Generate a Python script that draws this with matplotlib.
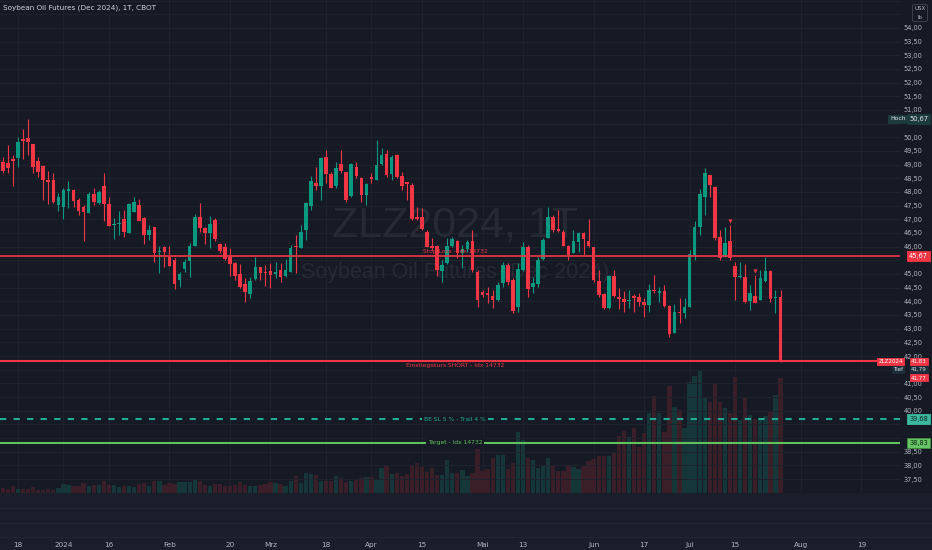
import numpy as np
import pandas as pd
import matplotlib
matplotlib.use("Agg")
import matplotlib.pyplot as plt
from matplotlib.transforms import blended_transform_factory
from matplotlib.patches import Rectangle
from matplotlib.lines import Line2D

# daily candles ZLZ2024, first bar 2023-12-13
opens = [
    49.11, 49.05, 49.21, 49.23, 49.93, 49.96, 49.74, 49.13, 48.94, 48.44,
    48.44, 47.53, 47.46, 48.07, 48.06, 47.71, 47.46, 47.24, 47.94, 47.61,
    48.20, 47.55, 46.82, 46.84, 47.01, 46.51, 47.26, 47.53, 47.04, 46.43,
    46.71, 45.79, 45.98, 45.63, 45.50, 44.78, 45.17, 45.48, 46.02, 47.07,
    46.67, 46.49, 46.98, 46.09, 45.98, 45.61, 45.39, 45.00, 44.63, 44.26,
    44.81, 45.24, 45.09, 45.11, 45.01, 45.15, 44.93, 45.09, 46.04, 45.96,
    46.61, 47.49, 48.32,
    48.23, 49.27, 48.65, 48.20, 49.01, 48.72, 47.87, 48.93, 48.50, 47.89,
    48.54, 48.44, 49.04, 49.38, 48.67, 49.35, 48.59, 48.35, 48.26, 47.10,
    47.07, 46.55, 46.04, 46.04, 45.10, 45.39, 46.04, 46.21, 45.76, 45.92,
    46.21, 45.09, 44.33, 44.32, 44.21, 44.05, 44.66, 45.33, 44.78, 43.80,
    45.15, 46.00, 44.54, 44.62, 45.54, 46.30, 47.07, 46.63, 46.55, 46.04,
    45.78, 46.18, 46.51, 46.22, 45.98, 44.74, 44.27, 43.74, 44.94, 44.17,
    44.09, 44.00, 44.19, 44.17, 43.99, 43.87, 44.38, 44.32, 44.38, 43.83,
    42.85, 43.62, 43.56, 43.80, 45.70, 46.73, 47.80, 48.62, 48.19, 46.37,
    45.61, 46.22, 45.30, 44.89, 44.88, 44.02, 44.21, 44.05, 44.74, 45.12,
    44.11, 44.16]
highs = [
    49.29, 49.72, 49.35, 50.02, 50.29, 50.67, 49.74, 49.29, 48.99, 48.77,
    48.68, 47.95, 48.13, 48.40, 48.11, 47.77, 47.52, 47.98, 48.16, 48.07,
    48.68, 47.83, 47.04, 47.31, 47.34, 47.59, 47.83, 47.73, 47.10, 46.79,
    46.73, 46.04, 46.04, 46.04, 45.57, 45.06, 45.54, 46.12, 47.20, 47.59,
    46.73, 47.12, 47.04, 46.12, 46.12, 45.94, 45.45, 45.37, 44.84, 44.90,
    45.63, 45.27, 45.33, 45.39, 45.45, 45.39, 45.54, 46.06, 46.43, 46.79,
    47.65, 48.59, 48.93,
    49.29, 49.54, 48.74, 49.11, 49.54, 48.74, 49.05, 49.11, 48.56, 48.32,
    48.68, 49.90, 49.60, 49.54, 49.35, 49.39, 48.74, 48.38, 48.32, 47.46,
    47.40, 46.61, 46.30, 46.06, 45.51, 46.30, 46.34, 46.24, 46.06, 46.24,
    46.61, 45.15, 44.41, 44.54, 44.41, 44.72, 45.45, 45.39, 44.84, 45.39,
    46.18, 46.06, 44.90, 45.63, 46.30, 47.44, 47.16, 47.34, 46.61, 46.06,
    46.61, 46.55, 46.55, 47.00, 46.00, 45.15, 44.29, 44.96, 45.15, 44.48,
    44.38, 44.41, 44.26, 44.32, 44.11, 44.62, 44.96, 44.54, 44.60, 43.87,
    43.90, 44.13, 44.11, 45.88, 46.95, 48.10, 48.87, 48.62, 48.22, 46.61,
    46.73, 46.79, 45.45, 45.45, 45.37, 44.60, 44.96, 45.15, 45.63, 45.15,
    44.41, 44.41]
lows = [
    48.68, 48.68, 48.20, 48.93, 49.20, 49.35, 48.71, 48.56, 47.71, 47.55,
    47.59, 47.31, 47.01, 47.43, 47.46, 47.16, 46.21, 47.22, 47.52, 47.56,
    46.95, 46.77, 46.27, 46.43, 46.37, 46.49, 47.26, 46.92, 46.09, 46.24,
    45.45, 45.02, 45.27, 45.31, 44.45, 44.54, 45.09, 44.90, 46.02, 46.55,
    46.10, 45.96, 46.22, 45.76, 45.51, 44.94, 44.78, 44.50, 43.99, 44.11,
    44.78, 44.78, 44.57, 44.48, 44.84, 44.72, 44.90, 45.07, 45.02, 45.96,
    46.24, 47.34, 48.07,
    47.71, 48.32, 48.13, 48.13, 48.68, 47.65, 47.83, 48.50, 47.65, 47.52,
    48.32, 48.44, 48.99, 48.56, 48.44, 48.50, 48.07, 47.71, 46.98, 46.98,
    46.61, 45.98, 45.88, 44.94, 44.72, 45.37, 45.98, 45.57, 45.21, 45.82,
    45.09, 43.80, 44.17, 43.93, 43.74, 44.03, 44.54, 44.60, 43.56, 43.62,
    45.12, 44.17, 44.32, 44.54, 45.51, 46.30, 46.55, 46.55, 46.03, 45.51,
    45.78, 45.82, 45.69, 46.00, 44.72, 44.17, 43.71, 43.72, 44.17, 43.72,
    43.62, 43.74, 43.62, 43.84, 43.44, 43.62, 44.29, 43.99, 43.80, 42.71,
    42.83, 43.19, 43.38, 43.80, 45.51, 46.43, 47.16, 47.83, 46.24, 45.51,
    45.61, 45.51, 44.05, 44.84, 43.95, 43.68, 43.93, 44.05, 44.72, 43.99,
    43.56, 41.79]
closes = [
    48.77, 48.89, 49.13, 49.82, 49.88, 49.83, 48.93, 48.74, 48.42, 48.38,
    47.65, 47.83, 48.07, 48.11, 47.68, 47.32, 47.27, 47.94, 47.65, 48.01,
    47.55, 46.77, 46.85, 46.88, 46.53, 47.55, 47.62, 46.95, 46.43, 46.61,
    45.78, 45.85, 45.79, 45.31, 44.63, 45.00, 45.43, 46.02, 47.09, 46.68,
    46.49, 46.84, 46.28, 45.85, 45.54, 45.37, 44.93, 44.54, 44.33, 44.74,
    45.27, 45.05, 45.05, 44.96, 45.07, 44.90, 45.15, 45.96, 45.99, 46.54,
    47.59, 48.40, 48.23,
    49.23, 48.65, 48.16, 48.89, 48.78, 47.71, 49.01, 48.58, 47.90, 48.28,
    48.48, 49.00, 49.35, 48.62, 49.29, 48.53, 48.23, 48.28, 47.00, 47.01,
    46.63, 46.00, 45.96, 45.15, 45.33, 46.04, 46.28, 45.76, 45.92, 46.18,
    45.15, 44.05, 44.23, 44.23, 44.05, 44.60, 45.33, 44.70, 43.65, 45.18,
    46.00, 44.45, 44.68, 45.51, 46.24, 47.07, 46.61, 46.58, 46.04, 45.67,
    46.21, 46.51, 46.28, 46.04, 44.78, 44.23, 43.74, 44.94, 44.21, 44.09,
    43.99, 44.05, 44.13, 43.96, 43.87, 44.41, 44.34, 44.38, 43.83, 42.80,
    43.62, 43.56, 43.78, 45.73, 46.71, 47.91, 48.68, 48.26, 46.30, 45.57,
    46.15, 45.57, 44.90, 44.94, 43.99, 44.32, 43.95, 44.84, 45.12, 44.09,
    44.16, 41.83]
volume = [
    15, 12, 20, 12, 12, 12, 17, 10, 10, 13, 8, 15, 27, 25, 20, 20, 30, 22, 23, 25,
    37, 25, 25, 18, 20, 20, 17, 28, 30, 20, 37, 35, 24, 30, 27, 32, 32, 32, 40, 37,
    25, 20, 26, 26, 22, 22, 25, 33, 25, 22, 20, 25, 28, 34, 30, 28, 22, 35, 52, 30,
    60, 58, 55, 37, 35, 35, 52, 45, 32, 37, 40, 45, 47, 47, 43, 75, 80, 58, 60, 52,
    58, 80, 90, 78, 62, 75, 55,
    55, 100, 60, 60, 70, 50, 60, 133, 65, 73, 105, 113, 113, 72, 90, 182, 160, 105,
    100, 75, 82, 105, 82, 65, 65, 80, 78, 73, 80, 97, 103, 110, 110, 112, 120, 172,
    185, 168, 197, 137, 180, 240, 292, 240, 182, 323, 260, 250, 195, 333, 352, 370,
    288, 273, 330, 273, 255, 240, 348, 220, 285, 235, 222, 220, 233, 247, 295, 345]

holidays = ["2023-12-25", "2024-01-01", "2024-01-15", "2024-02-19",
            "2024-03-29", "2024-05-27", "2024-06-19", "2024-07-04"]
days = pd.bdate_range("2023-12-13", "2024-09-30", freq="C", holidays=holidays)

tick_dates = ["2023-12-18", "2024-01-02", "2024-01-16", "2024-02-01", "2024-02-20",
              "2024-03-01", "2024-03-18", "2024-04-01", "2024-04-15", "2024-05-01",
              "2024-05-13", "2024-06-03", "2024-06-17", "2024-07-01", "2024-07-15",
              "2024-08-01", "2024-08-19"]
tick_labels = ["18", "2024", "16", "Feb", "20", "Mrz", "18", "Apr", "15", "Mai",
               "13", "Jun", "17", "Jul", "15", "Aug", "19"]
# price-scale labels hidden behind the tags in the reference
hidden_prices = [50.5, 45.5, 41.5, 39.5, 39.0]

stop_level = 45.67
entry_level = 41.83
be_level = 39.68
target_level = 38.83
high_value = 50.67
low_value = 41.79
signal_dates = ["2024-07-12", "2024-07-19"]
signal_prices = [46.94, 45.11]

BG = "#161a25"
GRID = "#1f232e"
UP = "#089981"
DOWN = "#f23645"
TXT = "#b2b5be"

o = np.array(opens); h = np.array(highs); l = np.array(lows); c = np.array(closes)
v = np.array(volume)
x = np.arange(len(c))
up = c >= o

fig = plt.figure(figsize=(9.32, 5.5), dpi=100, facecolor=BG)
rect = [0, 57 / 550, 900 / 932, 493 / 550]

# volume pane underneath the candles
vax = fig.add_axes(rect)
vax.set_facecolor(BG)
vax.bar(x, v, width=0.86, color=np.where(up, "#16373a", "#3a1f29"), zorder=1, linewidth=0)
vax.set_ylim(0, 1483)
vax.set_yticks([])
for s in vax.spines.values():
    s.set_visible(False)

ax = fig.add_axes(rect, sharex=vax)
ax.patch.set_alpha(0)
for s in ax.spines.values():
    s.set_visible(False)

ax.set_xlim(-0.56, 177.66)
ax.set_ylim(36.99, 55.02)

# grid
for yv in np.arange(37.0, 55.01, 0.5):
    ax.axhline(yv, color=GRID, lw=0.7, zorder=0)
pos = [days.get_loc(pd.Timestamp(d)) for d in tick_dates]
for p in pos:
    vax.axvline(p, color=GRID, lw=0.7, zorder=0)

# watermark
ax.text(0.5056, 0.542, "ZLZ2024, 1T", transform=ax.transAxes, ha="center", va="center",
        fontsize=31, color="#262a35", family="Liberation Sans", zorder=1)
ax.text(0.5056, 0.448, "Soybean Oil Futures (Dec 2024)", transform=ax.transAxes,
        ha="center", va="center", fontsize=15.5, color="#262a35",
        family="Liberation Sans", zorder=1)

# candles
col = np.where(up, UP, DOWN)
ax.vlines(x, l, h, color=col, lw=0.8, zorder=3)
flat = np.abs(c - o) < 0.04
ax.bar(x, np.where(flat, 0.04, c - o), bottom=np.where(flat, o - 0.02, o), width=0.72,
       color=col, zorder=4, linewidth=0)

sx = [days.get_loc(pd.Timestamp(d)) for d in signal_dates]
ax.scatter(sx, signal_prices, marker="v", s=9, color=DOWN, zorder=5, linewidths=0)

# levels
ax.axhline(stop_level, color=DOWN, lw=1.2, zorder=6)
ax.axhline(entry_level, color=DOWN, lw=1.5, zorder=6)
ax.axhline(be_level, color="#22ab94", lw=1.5, zorder=6, dashes=(3, 3.5))
ax.axhline(target_level, color="#5fc25f", lw=1.5, zorder=6)

tr = blended_transform_factory(ax.transAxes, ax.transData)
ax.annotate("Stop Loss - Idx 14732", xy=(0.5056, stop_level), xycoords=tr,
            xytext=(0, 1), textcoords="offset points", ha="center", va="bottom",
            fontsize=4.3, color=DOWN, zorder=7)
ax.annotate("Einstiegskurs SHORT - Idx 14732", xy=(0.5056, entry_level), xycoords=tr,
            xytext=(0, -2), textcoords="offset points", ha="center", va="top",
            fontsize=4.3, color=DOWN, zorder=7)
ax.text(0.5056, be_level, "BE SL 5 % - Trail 4 %", transform=tr, ha="center", va="center",
        fontsize=4.3, color="#22ab94", zorder=7,
        bbox=dict(boxstyle="square,pad=0.3", fc=BG, ec="none"))
ax.text(0.5056, target_level, "Target - Idx 14732", transform=tr, ha="center", va="center",
        fontsize=4.3, color="#5fc25f", zorder=7,
        bbox=dict(boxstyle="square,pad=0.3", fc=BG, ec="none"))

# axes ticks
yt = np.arange(37.5, 54.01, 0.5)
ax.yaxis.tick_right()
ax.set_yticks(yt)
ax.set_yticklabels(["" if any(abs(t - hp) < 1e-6 for hp in hidden_prices)
                    else f"{t:.2f}".replace(".", ",") for t in yt])
ax.tick_params(axis="y", length=0, pad=2.5, labelsize=4.8, labelcolor=TXT)
ax.set_xticks(pos)
ax.set_xticklabels(tick_labels)
ax.tick_params(axis="x", length=0, pad=35, labelsize=5.2, labelcolor=TXT)
plt.setp(vax.get_xticklabels(), visible=False)
vax.tick_params(axis="x", length=0)


def tag(y, text, fc, tc, xc, ec=None, size=4.8, pad=0.3):
    ax.text(xc, y, text, transform=tr, ha="center", va="center", fontsize=size,
            color=tc, zorder=10, clip_on=False,
            bbox=dict(boxstyle=f"square,pad={pad}", fc=fc, ec=ec or fc, lw=0.6))


tag(high_value, "Hoch", "#1d3b3d", "#e0e3eb", 0.9975, size=4.4)
tag(high_value, f"{high_value:.2f}".replace(".", ","), "#1d3b3d", "#e0e3eb", 1.0206)
tag(stop_level, f"{stop_level:.2f}".replace(".", ","), DOWN, "white", 1.0206)
# stacked tags around the last price
tag(41.80, "ZLZ2024", DOWN, "white", 0.9895, size=4.0, pad=0.2)
tag(41.80, f"{entry_level:.2f}".replace(".", ","), DOWN, "white", 1.0206, size=4.0, pad=0.2)
tag(41.50, "Tief", "#1d2d3a", "#e0e3eb", 0.998, size=4.0, pad=0.2)
tag(41.50, f"{low_value:.2f}".replace(".", ","), "#1d2d3a", "#e0e3eb", 1.0206,
    size=4.0, pad=0.2)
tag(41.20, "41,77", DOWN, "white", 1.0206, size=4.0, pad=0.2)
tag(be_level, f"{be_level:.2f}".replace(".", ","), "#3cb89e", "#10231f", 1.0206)
tag(target_level, f"{target_level:.2f}".replace(".", ","), "#66c466", "#0f230f", 1.0206,
    ec="#3f8f3f")

# bottom strip and header
fig.add_artist(Rectangle((0, 0), 1, 57 / 550, transform=fig.transFigure,
                         fc="#1a1e2a", ec="none", zorder=-1))
for yp in [508, 523, 537]:
    fig.add_artist(Line2D([0, 1], [1 - yp / 550] * 2, transform=fig.transFigure,
                          color="#232733", lw=0.7, zorder=-0.5))
fig.text(3 / 932, 1 - 8 / 550, "Soybean Oil Futures (Dec 2024), 1T, CBOT",
         fontsize=5.2, color="#d1d4dc", va="center", ha="left")
fig.text(920 / 932, 1 - 13 / 550, "USX\nlb", fontsize=4, color=TXT, ha="center",
         va="center", linespacing=1.8,
         bbox=dict(boxstyle="round,pad=0.35", fc=BG, ec="#434651", lw=0.6))

fig.savefig("out.png", dpi=100, facecolor=BG)
